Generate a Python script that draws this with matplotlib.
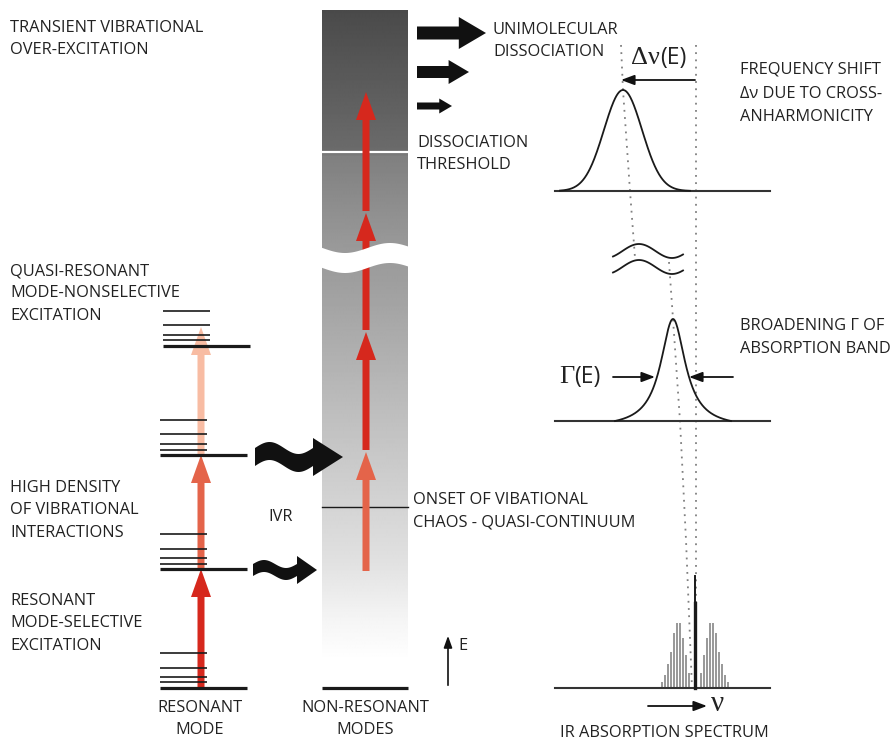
import numpy as np
import matplotlib
matplotlib.use("Agg")
import matplotlib.pyplot as plt
from matplotlib.patches import FancyArrow, Polygon

plt.rcParams['font.family'] = ['Open Sans', 'DejaVu Sans']

TXT = '#222222'
DARK_RED = '#d6281d'
MID_RED = '#e4644a'
LIGHT_RED = '#f8bca3'
FS = 11.8

# --- level structure of the resonant mode (pixel rows) ---
main_levels = [688, 569, 455, 346]
minor_levels = [[653, 668, 677, 682],
                [534, 549, 558, 564],
                [420, 434, 444, 450],
                [311, 325, 335, 340]]
level_x0 = [160, 160, 160, 163]

# excitation arrows (bottom, tip, colour)
left_arrows = [(688, 569, DARK_RED), (569, 455, MID_RED), (455, 327, LIGHT_RED)]
mid_arrows = [(571, 452, MID_RED), (450, 332, DARK_RED),
              (330, 213, DARK_RED), (211, 92, DARK_RED)]

# grey quasi-continuum gradient stops (row, grey level)
grad_rows = [10, 150, 156, 245, 280, 450, 560, 620, 660, 688]
grad_vals = [0.29, 0.42, 0.50, 0.60, 0.62, 0.78, 0.88, 0.96, 1.0, 1.0]

# dissociation arrows (tail x, tip x, y, body, head)
diss_arrows = [(417, 486, 33, 13, 32), (417, 469, 72, 12, 24), (417, 452, 106, 7, 15)]

# IR spectrum bars: positions and heights
bar_x_left = [662, 665, 668, 671, 674, 677, 680, 683, 686, 689]
bar_h_left = [6, 13, 24, 36, 55, 65, 65, 50, 33, 15]
bar_x_right = [701, 704, 707, 710, 713, 716, 719, 722, 725, 728]
bar_h_right = [15, 33, 50, 65, 65, 55, 36, 24, 13, 6]

fig = plt.figure(figsize=(8.94, 7.40), dpi=100)
ax = fig.add_axes([0, 0, 1, 1])
ax.set_xlim(0, 894)
ax.set_ylim(740, 0)
ax.axis('off')


def label(x, y0, lines, dy=22.3, size=FS, ha='left', **kw):
    for i, s in enumerate(lines):
        ax.text(x, y0 + i * dy, s, ha=ha, va='center', fontsize=size, color=TXT, **kw)


def up_arrow(x, y0, y1, color, z=4):
    ax.add_patch(FancyArrow(x, y0, 0, y1 - y0, width=7, head_width=20, head_length=28,
                            length_includes_head=True, color=color, lw=0, zorder=z))


# ---------------- left column: resonant mode ----------------
for y, minors, x0 in zip(main_levels, minor_levels, level_x0):
    ax.plot([x0, x0 + 87], [y, y], color='#1a1a1a', lw=2.3, solid_capstyle='butt', zorder=3)
    for ym in minors:
        ax.plot([x0, x0 + 47], [ym, ym], color='#1a1a1a', lw=1.2, solid_capstyle='butt', zorder=3)
for y0, y1, c in left_arrows:
    up_arrow(201, y0, y1, c, z=2)

# ---------------- middle column: non-resonant modes ----------------
rows = np.arange(10, 689)
grey = np.interp(rows, grad_rows, grad_vals)
img = np.repeat(grey[:, None], 2, axis=1)
ax.imshow(img, cmap='gray', vmin=0, vmax=1, extent=[322, 408, 688, 10],
          aspect='auto', interpolation='bilinear', zorder=1)
ax.plot([322, 408], [152, 152], color='white', lw=1.6, zorder=2)
ax.plot([322, 408], [507, 507], color='#1a1a1a', lw=1.0, zorder=2)
ax.plot([322, 408], [688, 688], color='#1a1a1a', lw=2.3, solid_capstyle='butt', zorder=3)
for y0, y1, c in mid_arrows:
    up_arrow(366, y0, y1, c)

# wavy break
bx = np.linspace(318, 412, 80)
btop = 248 + 5 * np.cos(2 * np.pi * (bx - 345) / 90)
ax.add_patch(Polygon(np.column_stack([np.r_[bx, bx[::-1]], np.r_[btop, btop[::-1] + 20]]),
                     closed=True, color='white', lw=0, zorder=6))


# IVR wavy arrows
def wavy_arrow(x0, x1, yc, body, amp, head_len, head_h):
    xs = np.linspace(x0, x1 - head_len, 40)
    yc_s = yc - amp * np.sin(2 * np.pi * (xs - x0) / (x1 - head_len - x0))
    top = yc_s - body / 2
    bot = yc_s + body / 2
    xh = x1 - head_len
    pts = list(zip(xs, top)) + [(xh, yc - head_h / 2), (x1, yc), (xh, yc + head_h / 2)] \
        + list(zip(xs[::-1], bot[::-1]))
    ax.add_patch(Polygon(pts, closed=True, color='#111111', lw=0, zorder=5))


wavy_arrow(255, 343, 457, 18, 6, 30, 38)
wavy_arrow(253, 317, 570, 12, 4, 20, 28)

for xa, xb, y, body, head in diss_arrows:
    ax.add_patch(FancyArrow(xa, y, xb - xa, 0, width=body, head_width=head,
                            head_length=head * 0.85, length_includes_head=True,
                            color='#111111', lw=0, zorder=5))

# energy axis
ax.annotate('', xy=(448, 633), xytext=(448, 688),
            arrowprops=dict(arrowstyle='-|>,head_length=0.7,head_width=0.25', color='#111111', lw=1.2))
ax.text(458, 646, 'E', fontsize=FS, color=TXT, va='center')

# ---------------- right column: absorption bands ----------------
for yb in [191, 421, 688]:
    ax.plot([555, 770], [yb, yb], color='#333333', lw=1.5, zorder=3)

gx = np.linspace(560, 690, 300)
gy = 191 - 101 * np.exp(-0.5 * ((gx - 623) / 19) ** 2)
ax.plot(gx, gy, color='#1a1a1a', lw=1.3, zorder=3)

lx = np.linspace(615, 731, 300)
lor = 1 / (1 + ((lx - 673) / 15) ** 2)
edge = 1 / (1 + (58 / 15) ** 2)
ly = 421 - 102 * np.clip((lor - edge) / (1 - edge), 0, None)
ax.plot(lx, ly, color='#1a1a1a', lw=1.3, zorder=3)

dot = dict(color='#808080', lw=1.3, linestyle=(0, (1, 3)), zorder=2)
ax.plot([621, 623, 630, 635], [45, 90, 191, 258], **dot)
ax.plot([669, 673, 680, 686, 692], [262, 319, 421, 540, 688], **dot)
ax.plot([696, 696], [45, 688], **dot)

# break marks
wx = np.linspace(613, 683, 60)
wy = 251 - 7 * np.sin(2 * np.pi * (wx - 613) / 66 - 0.9)
ax.plot(wx, wy, color='#1a1a1a', lw=1.3)
ax.plot(wx, wy + 16, color='#1a1a1a', lw=1.3)

# spectrum
ax.bar(bar_x_left, [-h for h in bar_h_left], bottom=688, width=1.5, color='#9a9a9a', zorder=2)
ax.bar(bar_x_right, [-h for h in bar_h_right], bottom=688, width=1.5, color='#9a9a9a', zorder=2)
ax.plot([695, 695], [688, 576], color='#1a1a1a', lw=1.4, zorder=3)
ax.plot([694.5, 694.5], [688, 603], color='#1a1a1a', lw=2.4, zorder=3)

# shift / width arrows
arr = dict(arrowstyle='-|>,head_length=0.8,head_width=0.3', color='#111111', lw=1.3,
           shrinkA=0, shrinkB=0)
ax.annotate('', xy=(621, 80), xytext=(695, 80), arrowprops=arr)
ax.annotate('', xy=(655, 377), xytext=(613, 377), arrowprops=arr)
ax.annotate('', xy=(689, 377), xytext=(733, 377), arrowprops=arr)
ax.annotate('', xy=(707, 706), xytext=(648, 706), arrowprops=arr)

ax.text(660, 58, 'Δν', fontsize=19, color=TXT, ha='right', va='center', family='Liberation Serif')
ax.text(660, 58, '(E)', fontsize=16.5, color=TXT, ha='left', va='center')
ax.text(574, 377, 'Γ', fontsize=19, color=TXT, ha='right', va='center', family='Liberation Serif')
ax.text(574, 377, '(E)', fontsize=16.5, color=TXT, ha='left', va='center')
ax.text(711, 704, 'ν', fontsize=21, color=TXT, ha='left', va='center', family='Liberation Serif')

# ---------------- labels ----------------
label(10, 28, ['TRANSIENT VIBRATIONAL', 'OVER-EXCITATION'])
label(10, 271, ['QUASI-RESONANT', 'MODE-NONSELECTIVE', 'EXCITATION'])
label(10, 488, ['HIGH DENSITY', 'OF VIBRATIONAL', 'INTERACTIONS'])
label(10, 601, ['RESONANT', 'MODE-SELECTIVE', 'EXCITATION'])
label(200, 708, ['RESONANT', 'MODE'], ha='center')
label(365, 708, ['NON-RESONANT', 'MODES'], ha='center')
label(268, 517, ['IVR'])
label(493, 30, ['UNIMOLECULAR', 'DISSOCIATION'], dy=21.5)
label(417, 143, ['DISSOCIATION', 'THRESHOLD'])
label(413, 500, ['ONSET OF VIBATIONAL', 'CHAOS - QUASI-CONTINUUM'])
label(740, 70, ['FREQUENCY SHIFT', 'Δν DUE TO CROSS-', 'ANHARMONICITY'], dy=23.5)
label(740, 326, ['BROADENING Γ OF', 'ABSORPTION BAND'], dy=23)
label(560, 733, ['IR ABSORPTION SPECTRUM'])

fig.savefig('out.png', dpi=100, facecolor='white')
